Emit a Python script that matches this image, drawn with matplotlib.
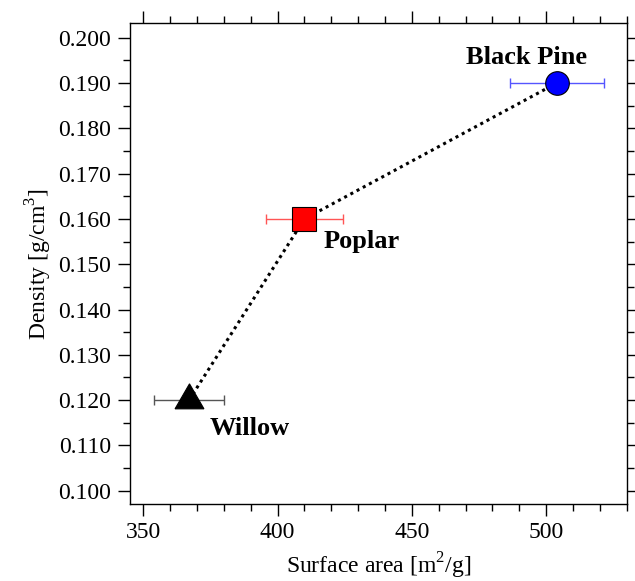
import matplotlib.pyplot as plt
from matplotlib.ticker import MultipleLocator, FormatStrFormatter

plt.rcParams['font.family'] = ['Liberation Serif', 'DejaVu Serif']
plt.rcParams['mathtext.fontset'] = 'custom'
plt.rcParams['mathtext.rm'] = 'Liberation Serif'

# wood samples: surface area vs density
woods = ["Willow", "Poplar", "Black Pine"]
surface_area = [367, 410, 504]
surface_err = [13, 14.5, 17.5]
density = [0.120, 0.160, 0.190]

marker_styles = [(3, 0, 0), "s", "o"]
marker_sizes = [24, 17, 17]
face_colors = ["black", "red", "blue"]
err_colors = ["#555555", "#ff5555", "#5555ff"]
label_offsets = [(15, -25), (13.5, -21), (-22, 14)]
label_ha = ["left", "left", "center"]

fig = plt.figure(figsize=(6.35, 5.81), dpi=100)
ax = fig.add_axes([0.2047, 0.132, 0.782, 0.828])

ax.plot(surface_area, density, linestyle=(0, (1, 1.3)), color="black",
        linewidth=2.2, dash_capstyle="butt", zorder=2)

for i in range(len(woods)):
    ax.errorbar(surface_area[i], density[i], xerr=surface_err[i],
                fmt="none", ecolor=err_colors[i], elinewidth=1,
                capsize=3.6, capthick=1, zorder=1)
    ax.plot(surface_area[i], density[i], marker=marker_styles[i],
            markersize=marker_sizes[i], markerfacecolor=face_colors[i],
            markeredgecolor="black", markeredgewidth=0.8,
            linestyle="none", zorder=3)
    ax.annotate(woods[i], (surface_area[i], density[i]),
                xytext=label_offsets[i], textcoords="offset points",
                ha=label_ha[i], va="baseline", fontsize=19,
                fontweight="bold")

ax.set_xlim(345, 530)
ax.set_ylim(0.097, 0.2032)

ax.xaxis.set_major_locator(MultipleLocator(50))
ax.xaxis.set_minor_locator(MultipleLocator(10))
ax.yaxis.set_major_locator(MultipleLocator(0.01))
ax.yaxis.set_minor_locator(MultipleLocator(0.005))
ax.yaxis.set_major_formatter(FormatStrFormatter("%.3f"))

ax.tick_params(which="both", direction="out", top=True, right=True,
               width=1, labelsize=17, labeltop=False, labelright=False)
ax.tick_params(which="major", length=8.4, pad=4)
ax.tick_params(which="minor", length=4.8)
ax.tick_params(axis="y", which="major", pad=5)
for s in ax.spines.values():
    s.set_linewidth(1)

ax.set_xlabel(r"Surface area [m$^2$/g]", fontsize=17, labelpad=6)
ax.set_ylabel(r"Density [g/cm$^3$]", fontsize=17, labelpad=3)

fig.savefig("out.png", dpi=100)
